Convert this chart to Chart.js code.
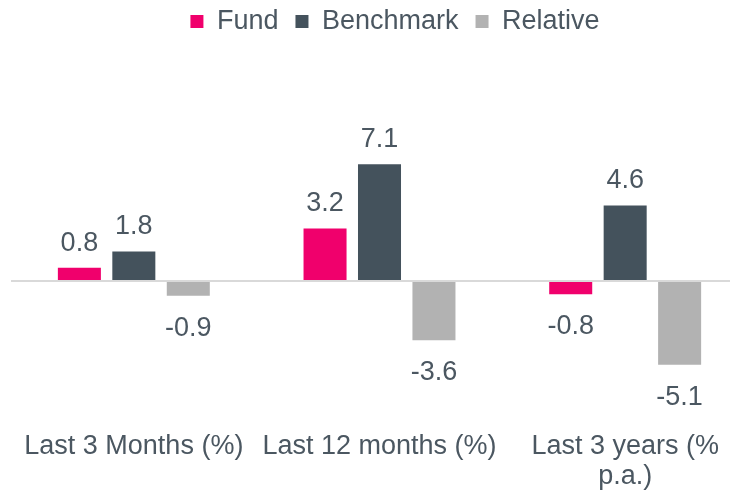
<!DOCTYPE html>
<html>
<head>
<meta charset="utf-8">
<script src="https://cdn.jsdelivr.net/npm/chart.js@4"></script>
<style>
  html, body { margin: 0; padding: 0; background: #ffffff; overflow: hidden; }
  #wrap { position: absolute; left: 0; top: 0; width: 730px; height: 495px; overflow: hidden; }
  canvas { position: absolute; left: 0; top: 0; }
</style>
</head>
<body>
<div id="wrap"><canvas id="c" width="779" height="495" style="width:779px;height:495px"></canvas></div>
<script>
const categories = ["Last 3 Months (%)", "Last 12 months (%)", ["Last 3 years (%", "p.a.)"]];
const seriesNames = ["Fund", "Benchmark", "Relative"];
const fundValues = [0.8, 3.2, -0.8];
const benchmarkValues = [1.8, 7.1, 4.6];
const relativeValues = [-0.9, -3.6, -5.1];

const TEXT = '#4b5761';
const FONT = '"Liberation Sans", Arial, sans-serif';

const valueLabels = {
  id: 'valueLabels',
  afterDatasetsDraw(chart) {
    const ctx = chart.ctx;
    ctx.save();
    ctx.font = '27px ' + FONT;
    ctx.fillStyle = TEXT;
    ctx.textAlign = 'center';
    ctx.textBaseline = 'alphabetic';
    chart.data.datasets.forEach((ds, i) => {
      const meta = chart.getDatasetMeta(i);
      meta.data.forEach((bar, j) => {
        const v = ds.data[j];
        const txt = v.toFixed(1);
        if (v >= 0) {
          ctx.fillText(txt, bar.x, bar.y - 17);
        } else {
          ctx.fillText(txt, bar.x, bar.y + 40);
        }
      });
    });
    ctx.restore();
  }
};

new Chart(document.getElementById('c'), {
  type: 'bar',
  data: {
    labels: categories,
    datasets: [
      { label: seriesNames[0], data: fundValues, backgroundColor: '#f0006c' },
      { label: seriesNames[1], data: benchmarkValues, backgroundColor: '#44525c' },
      { label: seriesNames[2], data: relativeValues, backgroundColor: '#b2b2b2' }
    ]
  },
  options: {
    responsive: false,
    animation: false,
    devicePixelRatio: 1,
    categoryPercentage: 0.665,
    barPercentage: 0.79,
    layout: { padding: { left: 11, top: -9, right: 0, bottom: -14 } },
    plugins: {
      tooltip: { enabled: false },
      legend: {
        position: 'top',
        align: 'center',
        labels: {
          boxWidth: 13,
          boxHeight: 13,
          padding: 17,
          color: TEXT,
          font: { size: 27, family: FONT }
        }
      }
    },
    scales: {
      x: {
        grid: { display: false },
        border: { display: false },
        ticks: {
          color: TEXT,
          font: { size: 27, family: FONT, lineHeight: 1.1 },
          autoSkip: false,
          maxRotation: 0,
          minRotation: 0,
          padding: 18
        }
      },
      y: {
        position: 'right',
        min: -7.58,
        max: 14.36,
        afterFit(scale) { scale.width = 31; },
        border: { display: false },
        ticks: { display: false, stepSize: 1 },
        grid: {
          drawTicks: false,
          lineWidth: 2,
          color: (c) => (c.tick && Math.abs(c.tick.value) < 1e-9) ? '#d9d9d9' : 'rgba(0,0,0,0)'
        }
      }
    }
  },
  plugins: [valueLabels]
});
</script>
</body>
</html>
